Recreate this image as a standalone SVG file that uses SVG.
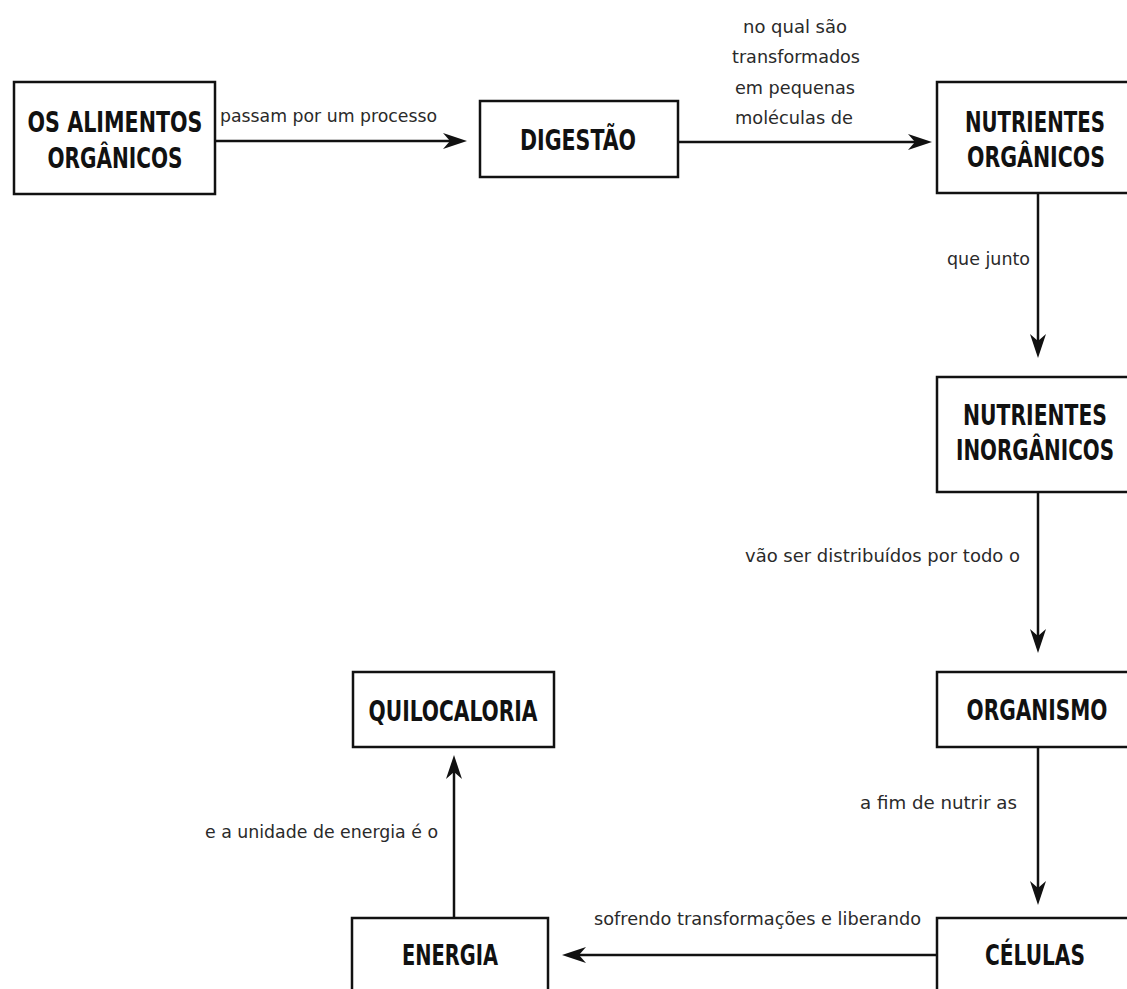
<svg xmlns="http://www.w3.org/2000/svg" width="1127" height="989" viewBox="0 0 1127 989">
<style>
.box{fill:#fff;stroke:#111;stroke-width:2.5}
.t{font-family:"DejaVu Sans Condensed","DejaVu Sans","Liberation Sans",sans-serif;font-weight:bold;font-size:23px;fill:#111;text-anchor:middle;font-stretch:condensed}
.l{font-family:"DejaVu Sans Condensed","DejaVu Sans","Liberation Sans",sans-serif;font-size:17px;fill:#2a2a2a;font-stretch:condensed}
.c{fill:none;stroke:#111;stroke-width:2.5}
</style>
<defs>
<marker id="ah" viewBox="-34 -9 36 18" refX="-8" refY="0" markerWidth="36" markerHeight="18" markerUnits="userSpaceOnUse" orient="auto">
<path d="M0,0 L-24,-8 L-17,0 L-24,8 Z" fill="#111"/>
</marker>
</defs>
<rect width="1127" height="989" fill="#fff"/>
<g id="connectors">
<line class="c" x1="215" y1="141" x2="459" y2="141" marker-end="url(#ah)"/>
<line class="c" x1="678" y1="142" x2="924" y2="142" marker-end="url(#ah)"/>
<line class="c" x1="1038" y1="193" x2="1038" y2="350" marker-end="url(#ah)"/>
<line class="c" x1="1038" y1="492" x2="1038" y2="645" marker-end="url(#ah)"/>
<line class="c" x1="1038" y1="747" x2="1038" y2="897" marker-end="url(#ah)"/>
<line class="c" x1="937" y1="955" x2="570" y2="955" marker-end="url(#ah)"/>
<line class="c" x1="454" y1="918" x2="454" y2="763" marker-end="url(#ah)"/>
<text class="l" x="220" y="122" textLength="217" lengthAdjust="spacingAndGlyphs">passam por um processo</text>
<text class="l" x="743" y="33" textLength="104" lengthAdjust="spacingAndGlyphs">no qual são</text>
<text class="l" x="732" y="63" textLength="128" lengthAdjust="spacingAndGlyphs">transformados</text>
<text class="l" x="735" y="94" textLength="120" lengthAdjust="spacingAndGlyphs">em pequenas</text>
<text class="l" x="735" y="124" textLength="118" lengthAdjust="spacingAndGlyphs">moléculas de</text>
<text class="l" x="947" y="265" textLength="83" lengthAdjust="spacingAndGlyphs">que junto</text>
<text class="l" x="745" y="562" textLength="275" lengthAdjust="spacingAndGlyphs">vão ser distribuídos por todo o</text>
<text class="l" x="860" y="809" textLength="157" lengthAdjust="spacingAndGlyphs">a fim de nutrir as</text>
<text class="l" x="594" y="925" textLength="327" lengthAdjust="spacingAndGlyphs">sofrendo transformações e liberando</text>
<text class="l" x="205" y="838" textLength="233" lengthAdjust="spacingAndGlyphs">e a unidade de energia é o</text>
</g>
<g id="alimentos">
<rect class="box" x="14" y="82" width="201" height="112"/>
<text class="t" transform="translate(115,132) scale(1,1.2)" textLength="175" lengthAdjust="spacingAndGlyphs">OS ALIMENTOS</text>
<text class="t" transform="translate(115,168) scale(1,1.2)" textLength="135" lengthAdjust="spacingAndGlyphs">ORGÂNICOS</text>
</g>
<g id="digestao">
<rect class="box" x="480" y="101" width="198" height="76"/>
<text class="t" transform="translate(578,150) scale(1,1.2)" textLength="116" lengthAdjust="spacingAndGlyphs">DIGESTÃO</text>
</g>
<g id="nutrientes-organicos">
<rect class="box" x="937" y="82" width="200" height="111"/>
<text class="t" transform="translate(1035,132) scale(1,1.2)" textLength="140" lengthAdjust="spacingAndGlyphs">NUTRIENTES</text>
<text class="t" transform="translate(1036,167) scale(1,1.2)" textLength="138" lengthAdjust="spacingAndGlyphs">ORGÂNICOS</text>
</g>
<g id="nutrientes-inorganicos">
<rect class="box" x="937" y="377" width="200" height="115"/>
<text class="t" transform="translate(1035,425) scale(1,1.2)" textLength="144" lengthAdjust="spacingAndGlyphs">NUTRIENTES</text>
<text class="t" transform="translate(1035,460) scale(1,1.2)" textLength="158" lengthAdjust="spacingAndGlyphs">INORGÂNICOS</text>
</g>
<g id="organismo">
<rect class="box" x="937" y="672" width="200" height="75"/>
<text class="t" transform="translate(1037,720) scale(1,1.2)" textLength="141" lengthAdjust="spacingAndGlyphs">ORGANISMO</text>
</g>
<g id="celulas">
<rect class="box" x="937" y="918" width="200" height="90"/>
<text class="t" transform="translate(1035,965) scale(1,1.2)" textLength="100" lengthAdjust="spacingAndGlyphs">CÉLULAS</text>
</g>
<g id="energia">
<rect class="box" x="352" y="918" width="196" height="90"/>
<text class="t" transform="translate(450,965) scale(1,1.2)" textLength="96" lengthAdjust="spacingAndGlyphs">ENERGIA</text>
</g>
<g id="quilocaloria">
<rect class="box" x="353" y="672" width="201" height="75"/>
<text class="t" transform="translate(453,721) scale(1,1.2)" textLength="169" lengthAdjust="spacingAndGlyphs">QUILOCALORIA</text>
</g>
</svg>
